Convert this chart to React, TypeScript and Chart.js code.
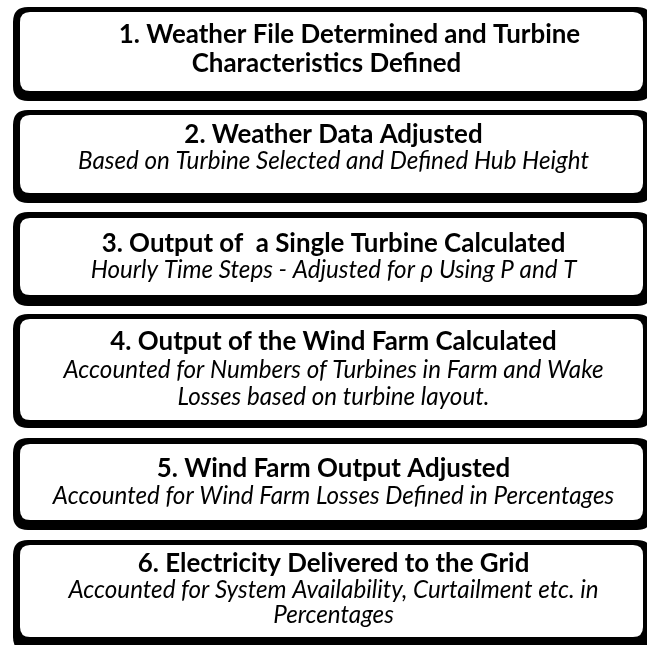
import React, { useEffect, useRef } from "react";
import { Chart, registerables } from "chart.js";

Chart.register(...registerables);

// ---- content ----
const STEP_TITLES: string[][] = [
  ["1. Weather File Determined and Turbine", "Characteristics Defined"],
  ["2. Weather Data Adjusted"],
  ["3. Output of  a Single Turbine Calculated"],
  ["4. Output of the Wind Farm Calculated"],
  ["5. Wind Farm Output Adjusted"],
  ["6. Electricity Delivered to the Grid"],
];

const STEP_NOTES: string[][] = [
  [],
  ["Based on Turbine Selected and Defined Hub Height"],
  ["Hourly Time Steps - Adjusted for \u03C1 Using P and T"],
  ["Accounted for Numbers of Turbines in Farm and Wake", "Losses based on turbine layout."],
  ["Accounted for Wind Farm Losses Defined in Percentages"],
  ["Accounted for System Availability, Curtailment etc. in", "Percentages"],
];

const W = 647;
const H = 645;
const FAMILY = "Lato, 'Open Sans', 'DejaVu Sans', sans-serif";

// layout (in chart units = pixels of the reference)
const OUTER: [number, number][] = [
  [7, 101], [110, 203], [212, 306], [314, 428], [438, 530], [540, 652],
];
const INNER: [number, number][] = [
  [12, 91], [115, 193], [218, 295], [319, 420], [444, 520], [545, 637],
];
const TITLE_BASE: number[][] = [[43, 72], [143], [252], [350], [477], [572]];
const NOTE_BASE: number[][] = [[], [169], [278], [378, 405], [504], [598, 623]];

function roundRect(ctx: CanvasRenderingContext2D, x0: number, y0: number, x1: number, y1: number, r: number) {
  ctx.beginPath();
  ctx.moveTo(x0 + r, y0);
  ctx.lineTo(x1 - r, y0);
  ctx.quadraticCurveTo(x1, y0, x1, y0 + r);
  ctx.lineTo(x1, y1 - r);
  ctx.quadraticCurveTo(x1, y1, x1 - r, y1);
  ctx.lineTo(x0 + r, y1);
  ctx.quadraticCurveTo(x0, y1, x0, y1 - r);
  ctx.lineTo(x0, y0 + r);
  ctx.quadraticCurveTo(x0, y0, x0 + r, y0);
  ctx.closePath();
}

function fitSize(ctx: CanvasRenderingContext2D, style: string, lines: string[], targets: number[]) {
  ctx.font = `${style} 100px ${FAMILY}`;
  let m = 0;
  let t = 0;
  lines.forEach((l, i) => {
    m += ctx.measureText(l).width;
    t += targets[i];
  });
  return (100 * t) / m;
}

const flowPlugin = {
  id: "flowBoxes",
  afterDraw(chart: any) {
    const { ctx } = chart;
    const xs = chart.scales.x;
    const ys = chart.scales.y;
    const px = (v: number) => xs.getPixelForValue(v);
    const py = (v: number) => ys.getPixelForValue(v);
    ctx.save();
    ctx.fillStyle = "#ffffff";
    ctx.fillRect(0, 0, chart.width, chart.height);

    const titleSize = fitSize(
      ctx,
      "bold",
      [STEP_TITLES[0][0], STEP_TITLES[1][0], STEP_TITLES[2][0], STEP_TITLES[3][0], STEP_TITLES[5][0]],
      [465, 288, 467, 449, 393]
    );
    const noteSize = fitSize(
      ctx,
      "italic",
      [STEP_NOTES[2][0], STEP_NOTES[3][0], STEP_NOTES[3][1], STEP_NOTES[4][0], STEP_NOTES[5][0]],
      [482, 540, 320, 562, 527]
    );

    STEP_TITLES.forEach((titles, i) => {
      const [ot, ob] = OUTER[i];
      const [it, ib] = INNER[i];
      ctx.fillStyle = "#000000";
      roundRect(ctx, px(13), py(ot), px(652), py(ob), 15);
      ctx.fill();
      ctx.fillStyle = "#ffffff";
      roundRect(ctx, px(20), py(it), px(643), py(ib), 10);
      ctx.fill();

      ctx.fillStyle = "#000000";
      ctx.textAlign = "center";
      ctx.textBaseline = "alphabetic";
      ctx.font = `bold ${titleSize}px ${FAMILY}`;
      titles.forEach((t, j) => {
        let cx = 333.5;
        if (i === 0) cx = j === 0 ? 349.5 : 326.5;
        ctx.fillText(t, px(cx), py(TITLE_BASE[i][j]));
      });
      ctx.font = `italic ${noteSize}px ${FAMILY}`;
      STEP_NOTES[i].forEach((t, j) => {
        ctx.fillText(t, px(333.5), py(NOTE_BASE[i][j]));
      });
    });
    ctx.restore();
  },
};

export default function App() {
  const ref = useRef<HTMLCanvasElement | null>(null);
  useEffect(() => {
    document.body.style.margin = "0";
    const canvas = ref.current;
    if (!canvas) return;
    const chart = new Chart(canvas, {
      type: "scatter",
      data: { datasets: [{ data: [] }] },
      options: {
        animation: false,
        responsive: false,
        maintainAspectRatio: false,
        devicePixelRatio: 1,
        layout: { padding: 0 },
        plugins: { legend: { display: false }, tooltip: { enabled: false } },
        scales: {
          x: { type: "linear", min: 0, max: W, display: false },
          y: { type: "linear", min: 0, max: H, reverse: true, display: false },
        },
      },
      plugins: [flowPlugin],
    });
    return () => chart.destroy();
  }, []);
  return (
    <div style={{ position: "absolute", left: 0, top: 0, width: W, height: H, background: "#fff" }}>
      <canvas ref={ref} width={W} height={H} style={{ display: "block" }} />
    </div>
  );
}
